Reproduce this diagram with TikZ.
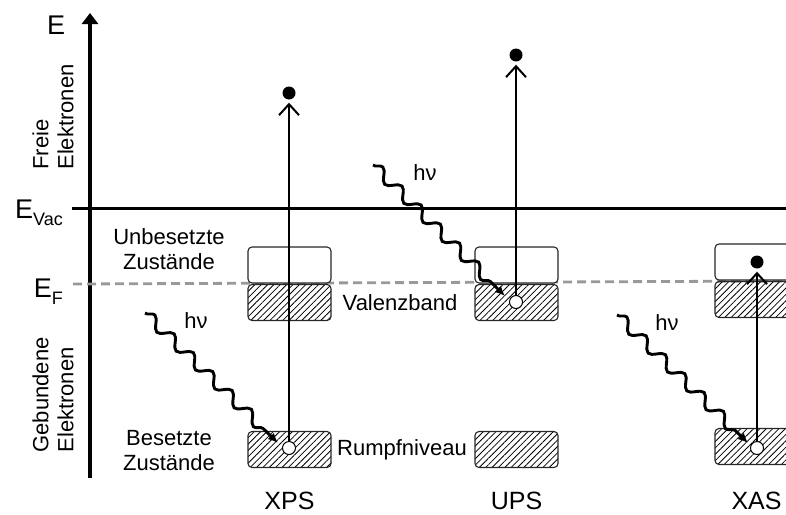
\documentclass[tikz,border=0pt]{standalone}
\usepackage{fontspec}
\setmainfont{Liberation Sans}
\usetikzlibrary{arrows.meta,patterns.meta,decorations.pathmorphing}

\begin{document}
\begin{tikzpicture}[x=1pt,y=-1pt,
  lbl/.style={font=\fontsize{22}{25}\selectfont, inner sep=0pt, align=center},
  biglbl/.style={font=\fontsize{25}{28}\selectfont, inner sep=0pt},
  elbl/.style={font=\fontsize{27}{30}\selectfont, inner sep=0pt},
  band/.style={draw=black!85, line width=1.1pt, rounded corners=4pt,
    minimum width=83pt, minimum height=36pt, inner sep=0pt},
  occupied/.style={band, pattern={Lines[angle=45,distance=4.5pt,line width=0.8pt]}},
  vacant/.style={band, fill=white},
  hole/.style={circle, draw=black, line width=1pt, fill=white, minimum size=13pt, inner sep=0pt},
  electron/.style={circle, fill=black, minimum size=13pt, inner sep=0pt},
  excite/.style={line width=2pt, -{Straight Barb[length=11pt,width=20pt,line width=2pt]}, shorten >=3pt},
  photon/.style={line width=2.9pt, decorate,
    decoration={snake, amplitude=5.5pt, segment length=27pt, post length=9pt},
    -{Latex[length=10pt,width=9pt]}},
  axisline/.style={line width=3.4pt, -{Triangle[length=11pt,width=16pt]}},
  level/.style={line width=3pt},
  fermi/.style={line width=2.8pt, draw=black!40, dash pattern=on 9pt off 5pt},
]
\useasboundingbox (0,0) rectangle (786,514);

% energy axis and reference levels
\coordinate (axb) at (90,478);
\coordinate (axt) at (90,13);
\draw[axisline] (axb) -- (axt);
\node[elbl, anchor=base west] (elabel) at (47,34) {E};

\coordinate (vacL) at (72,208);
\coordinate (vacR) at (786,208);
\draw[level] (vacL) -- (vacR);
\node[elbl, anchor=base east] (evac) at (63,218)
  {E\raisebox{-0.28em}{\fontsize{18}{18}\selectfont Vac}};

\coordinate (fermiL) at (73,284);
\coordinate (fermiR) at (786,281);
\draw[fermi] (fermiL) -- (fermiR);
\node[elbl, anchor=base east] (ef) at (63,297)
  {E\raisebox{-0.28em}{\fontsize{18}{18}\selectfont F}};

% region labels along the axis
\node[lbl, rotate=90, align=left] (frei) at (53,117) {Freie\\Elektronen};
\node[lbl, rotate=90, align=left] (gebunden) at (53,395) {Gebundene\\Elektronen};

% XPS column
\node[vacant]   (x1u) at (289.5,265) {};
\node[occupied] (x1v) at (289.5,302.5) {};
\node[occupied] (x1c) at (289.5,449.5) {};
% UPS column
\node[vacant]   (x2u) at (516.5,265) {};
\node[occupied] (x2v) at (516.5,302.5) {};
\node[occupied] (x2c) at (516.5,449.5) {};
% XAS column
\node[vacant]   (x3u) at (756.5,262) {};
\node[occupied] (x3v) at (756.5,299.5) {};
\node[occupied] (x3c) at (756.5,446.5) {};

% band labels
\node[lbl] (unbes) at (169,249) {Unbesetzte\\Zustände};
\node[lbl] (bes) at (169,451) {Besetzte\\Zustände};
\node[lbl] (vb) at (400,303) {Valenzband};
\node[lbl] (rn) at (402,450) {Rumpfniveau};

% holes and electrons
\node[hole] (h1) at (289,448) {};
\node[hole] (h2) at (516,302) {};
\node[hole] (h3) at (757,448) {};
\node[electron] (e1) at (289,93) {};
\node[electron] (e2) at (516,55) {};
\node[electron] (e3) at (757,262) {};

% excitation arrows
\draw[excite] (h1) -- (e1);
\draw[excite] (h2) -- (e2);
\draw[excite] (h3) -- (e3);

% incoming photons
\coordinate (p1s) at (145,313);
\coordinate (p1e) at (278,443);
\coordinate (p2s) at (373,165);
\coordinate (p2e) at (505,296);
\coordinate (p3s) at (617,315);
\coordinate (p3e) at (748,443);
\draw[photon] (p1s) -- (p1e);
\draw[photon] (p2s) -- (p2e);
\draw[photon] (p3s) -- (p3e);
\node[lbl] (hv1) at (196,321) {hν};
\node[lbl] (hv2) at (425,173) {hν};
\node[lbl] (hv3) at (667,323) {hν};

% method labels
\node[biglbl, anchor=base] (xps) at (289.5,509) {XPS};
\node[biglbl, anchor=base] (ups) at (516.5,509) {UPS};
\node[biglbl, anchor=base] (xas) at (756.5,509) {XAS};
\end{tikzpicture}
\end{document}
